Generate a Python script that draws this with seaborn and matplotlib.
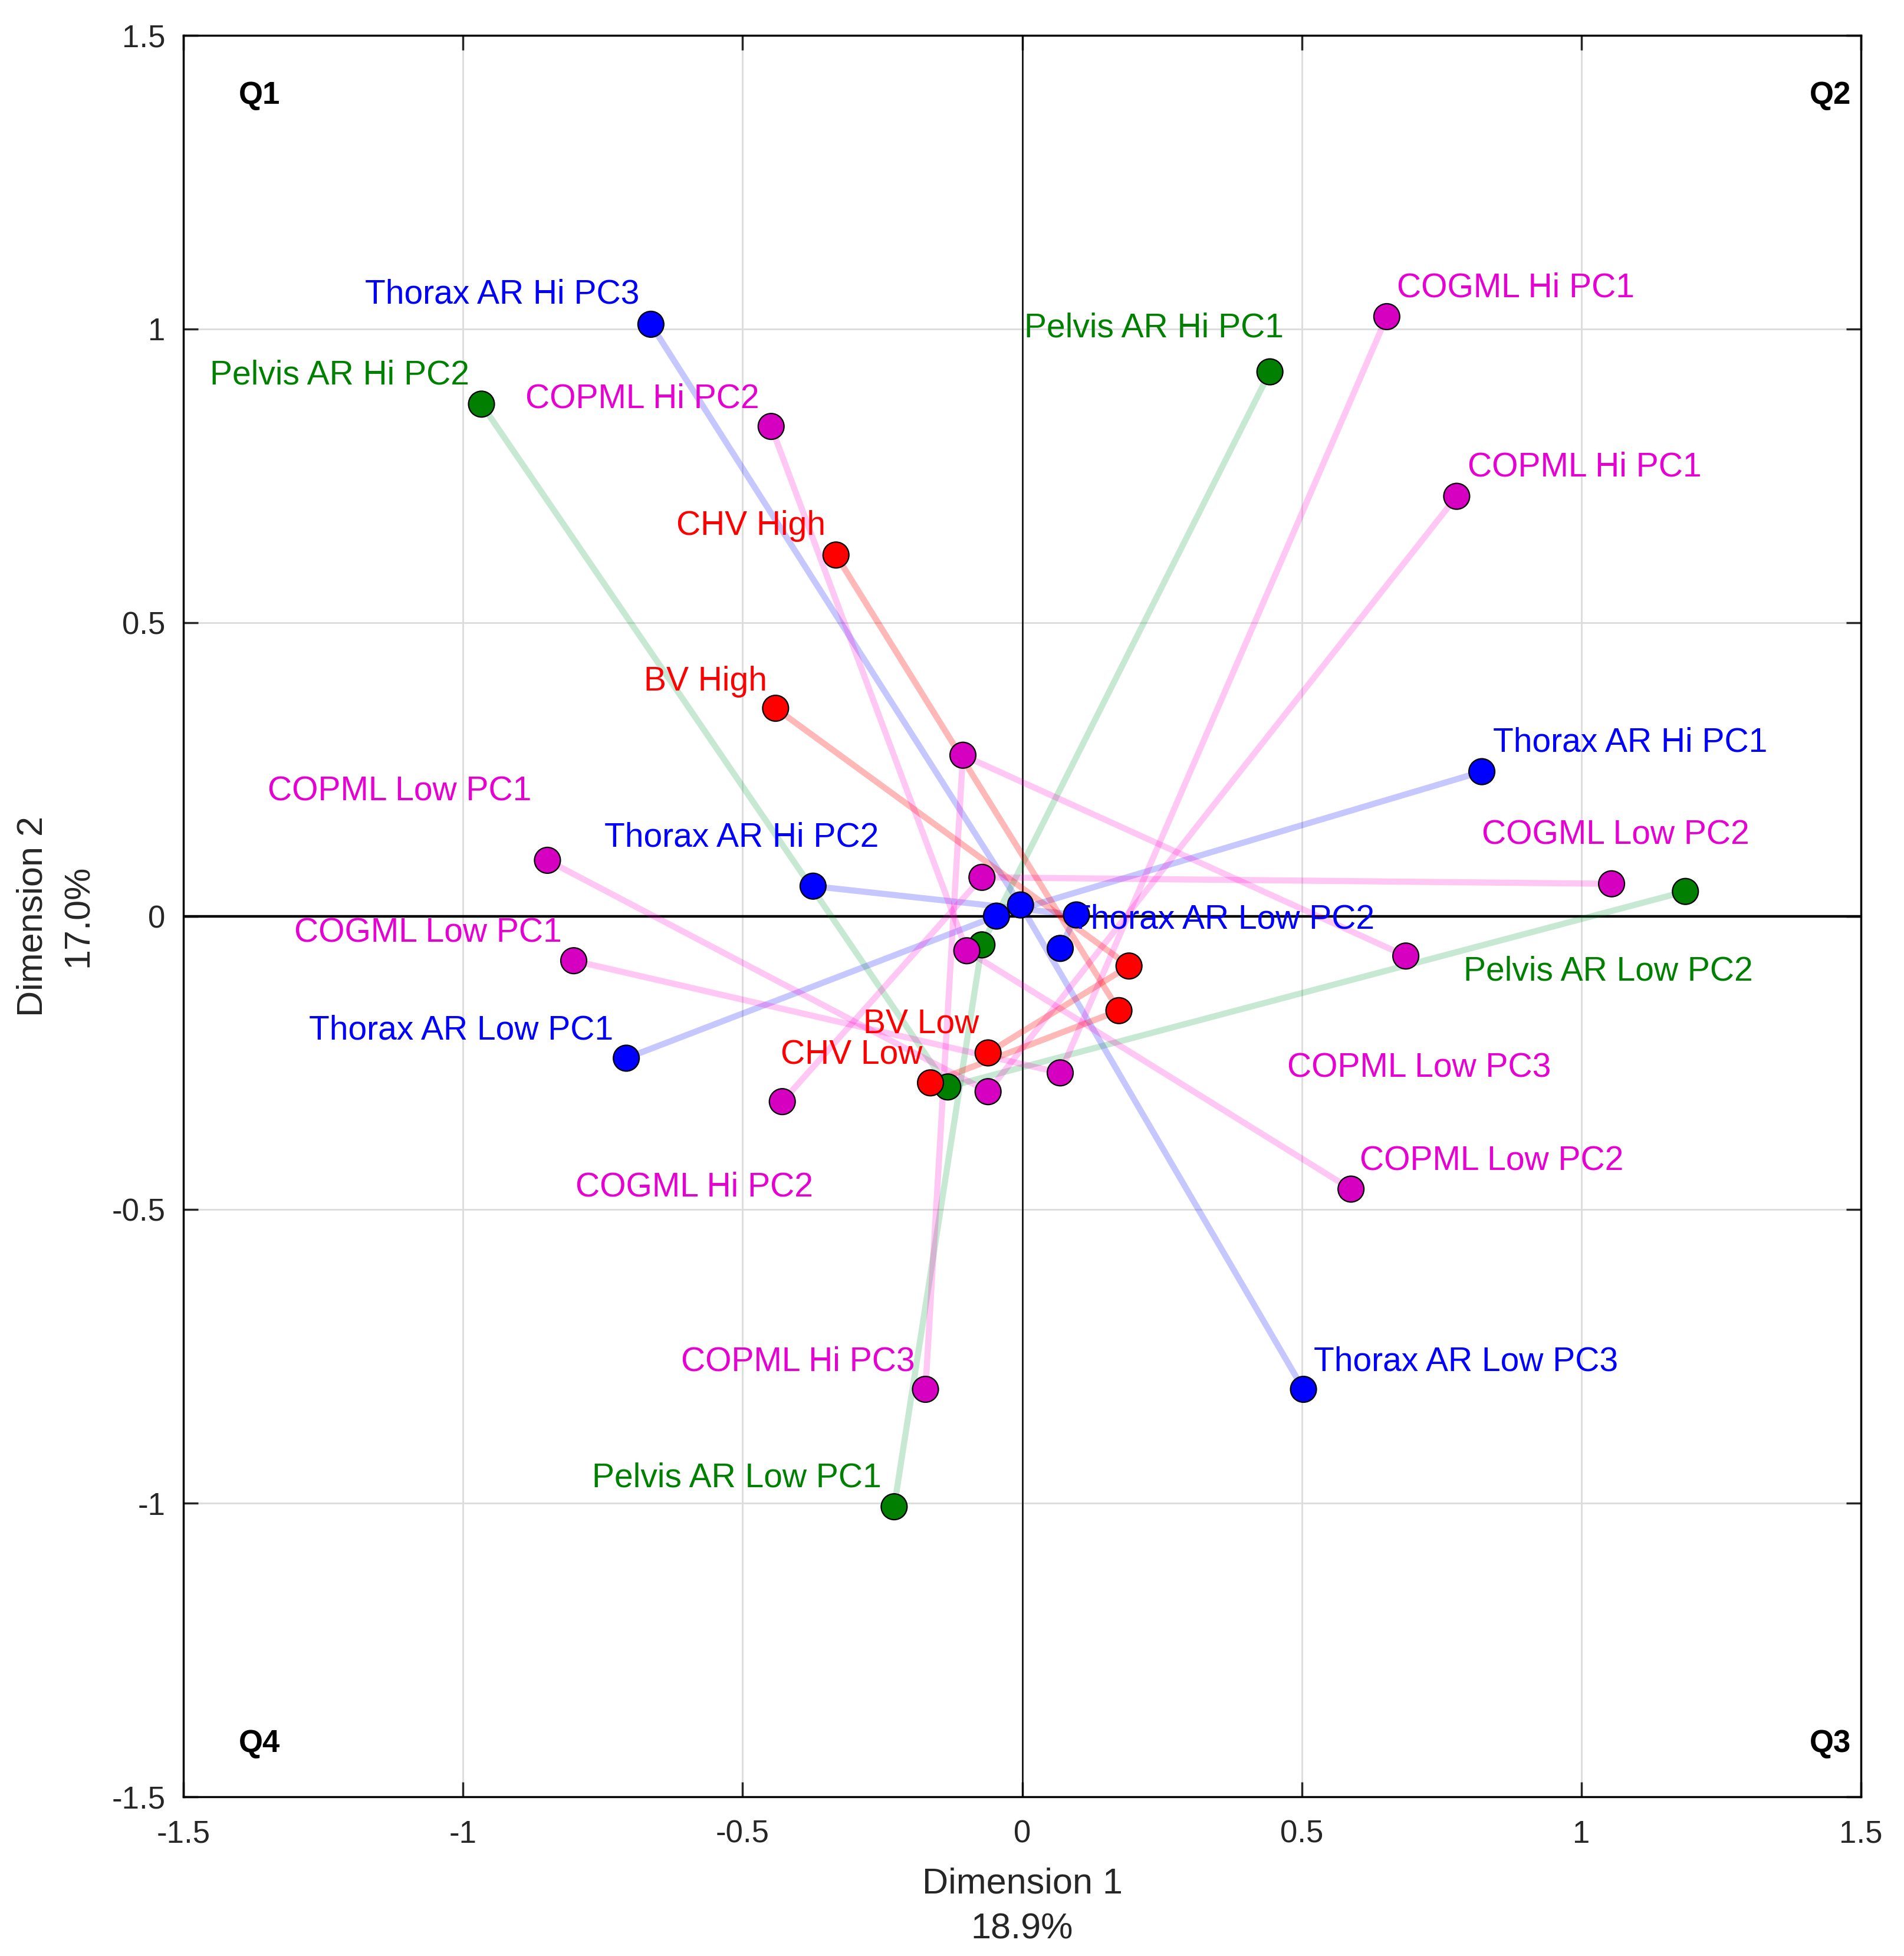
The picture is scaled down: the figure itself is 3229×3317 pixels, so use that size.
import seaborn as sns
import matplotlib.pyplot as plt
import pandas as pd

# each variable: Hi -> (unlabelled middle category) -> Low
groups = ["Thorax AR", "Thorax AR", "Thorax AR", "Pelvis AR", "Pelvis AR", "BV", "CHV",
          "COGML", "COGML", "COPML", "COPML", "COPML"]
hi_labels = ["Thorax AR Hi PC1", "Thorax AR Hi PC2", "Thorax AR Hi PC3",
             "Pelvis AR Hi PC1", "Pelvis AR Hi PC2", "BV High", "CHV High",
             "COGML Hi PC1", "COGML Hi PC2", "COPML Hi PC1", "COPML Hi PC2", "COPML Hi PC3"]
lo_labels = ["Thorax AR Low PC1", "Thorax AR Low PC2", "Thorax AR Low PC3",
             "Pelvis AR Low PC1", "Pelvis AR Low PC2", "BV Low", "CHV Low",
             "COGML Low PC1", "COGML Low PC2", "COPML Low PC1", "COPML Low PC2", "COPML Low PC3"]
hi_x = [0.822, -0.374, -0.664, 0.443, -0.967, -0.441, -0.333, 0.652, -0.429, 0.777, -0.449, -0.173]
hi_y = [0.246, 0.051, 1.008, 0.927, 0.872, 0.354, 0.615, 1.021, -0.316, 0.715, 0.834, -0.806]
mid_x = [-0.046, 0.097, -0.003, -0.072, -0.133, 0.191, 0.173, 0.068, -0.072, -0.061, -0.099, -0.106]
mid_y = [0.000, 0.002, 0.019, -0.049, -0.291, -0.085, -0.161, -0.267, 0.066, -0.299, -0.059, 0.274]
lo_x = [-0.708, 0.068, 0.503, -0.229, 1.186, -0.061, -0.164, -0.802, 1.054, -0.849, 0.588, 0.686]
lo_y = [-0.242, -0.055, -0.806, -1.006, 0.042, -0.233, -0.284, -0.076, 0.055, 0.095, -0.465, -0.068]

# label offsets from their point (data units)
hi_dx = [0.020, -0.373, -0.511, -0.439, -0.486, -0.236, -0.286, 0.018, -0.370, 0.020, -0.439, -0.437]
hi_dy = [0.049, 0.083, 0.051, 0.074, 0.049, 0.045, 0.049, 0.049, -0.146, 0.049, 0.047, 0.047]
lo_dx = [-0.567, 0.018, 0.018, -0.540, -0.397, -0.223, -0.268, -0.500, -0.232, -0.500, 0.016, -0.212]
lo_dy = [0.047, 0.049, 0.047, 0.049, -0.136, 0.049, 0.047, 0.047, 0.083, 0.117, 0.047, -0.191]

quadrants = ["Q1", "Q2", "Q3", "Q4"]
ticks = [-1.5, -1, -0.5, 0, 0.5, 1, 1.5]
tick_labels = ["-1.5", "-1", "-0.5", "0", "0.5", "1", "1.5"]

marker_col = {"Thorax AR": "#0000ff", "Pelvis AR": "#007f00", "BV": "#ff0000",
              "CHV": "#ff0000", "COGML": "#d600c0", "COPML": "#d600c0"}
text_col = {"Thorax AR": "#0000ff", "Pelvis AR": "#008000", "BV": "#ff0000",
            "CHV": "#ff0000", "COGML": "#e600d2", "COPML": "#e600d2"}
line_col = {"Thorax AR": "#0000ff", "Pelvis AR": "#009933", "BV": "#ff0000",
            "CHV": "#ff0000", "COGML": "#ff00cc", "COPML": "#ff00cc"}

rows = []
for i, g in enumerate(groups):
    rows.append({"var": i, "group": g, "step": 0, "x": hi_x[i], "y": hi_y[i]})
    rows.append({"var": i, "group": g, "step": 1, "x": mid_x[i], "y": mid_y[i]})
    rows.append({"var": i, "group": g, "step": 2, "x": lo_x[i], "y": lo_y[i]})
df = pd.DataFrame(rows)

sns.set_theme(style="white")
plt.rcParams["font.family"] = ["Liberation Sans", "DejaVu Sans"]

fig = plt.figure(figsize=(32.3, 33.17), dpi=100)
ax = fig.add_axes([0.0963, 0.0814, 0.8808, 0.9005])

ax.grid(True, color="#dcdcdc", lw=2, zorder=0)
ax.axhline(0, color="black", lw=3.2, zorder=1)
ax.axvline(0, color="black", lw=1.8, zorder=1)

sns.lineplot(data=df[~df["group"].isin(["BV", "CHV"])], x="x", y="y", hue="group",
             units="var", estimator=None, sort=False, palette=line_col, lw=7.5,
             alpha=0.22, legend=False, ax=ax, zorder=2)
sns.lineplot(data=df[df["group"].isin(["BV", "CHV"])], x="x", y="y", hue="group",
             units="var", estimator=None, sort=False, palette=line_col, lw=7.5,
             alpha=0.28, legend=False, ax=ax, zorder=2)
sns.scatterplot(data=df, x="x", y="y", hue="group", palette=marker_col, s=1000,
                edgecolor="black", linewidth=1.6, legend=False, ax=ax, zorder=3)

for i, g in enumerate(groups):
    ax.text(hi_x[i] + hi_dx[i], hi_y[i] + hi_dy[i], hi_labels[i], color=text_col[g],
            fontsize=41, ha="left", va="center", zorder=4)
    ax.text(lo_x[i] + lo_dx[i], lo_y[i] + lo_dy[i], lo_labels[i], color=text_col[g],
            fontsize=41, ha="left", va="center", zorder=4)

q_pos = {"Q1": (0.033, 0.966), "Q2": (0.994, 0.966), "Q3": (0.994, 0.030), "Q4": (0.033, 0.030)}
for q in quadrants:
    qx, qy = q_pos[q]
    ax.text(qx, qy, q, transform=ax.transAxes, fontsize=38, fontweight="bold",
            ha="left" if qx < 0.5 else "right", va="center", color="black")

ax.set_xlim(-1.5, 1.5)
ax.set_ylim(-1.5, 1.5)
ax.set_xticks(ticks)
ax.set_xticklabels(tick_labels)
ax.set_yticks(ticks)
ax.set_yticklabels(tick_labels)
ax.tick_params(axis="both", direction="in", length=18, width=2.5, labelsize=38,
               labelcolor="#262626", top=True, right=True, bottom=True, left=True)
ax.tick_params(axis="x", pad=28)
ax.tick_params(axis="y", pad=22)
for sp in ax.spines.values():
    sp.set_color("black")
    sp.set_linewidth(2.5)

ax.set_xlabel("Dimension 1\n18.9%", fontsize=44, color="#262626", labelpad=22,
              linespacing=1.45)
ax.set_ylabel("Dimension 2\n17.0%", fontsize=44, color="#262626", labelpad=20,
              linespacing=1.45)

fig.savefig("out.png", dpi=100)
